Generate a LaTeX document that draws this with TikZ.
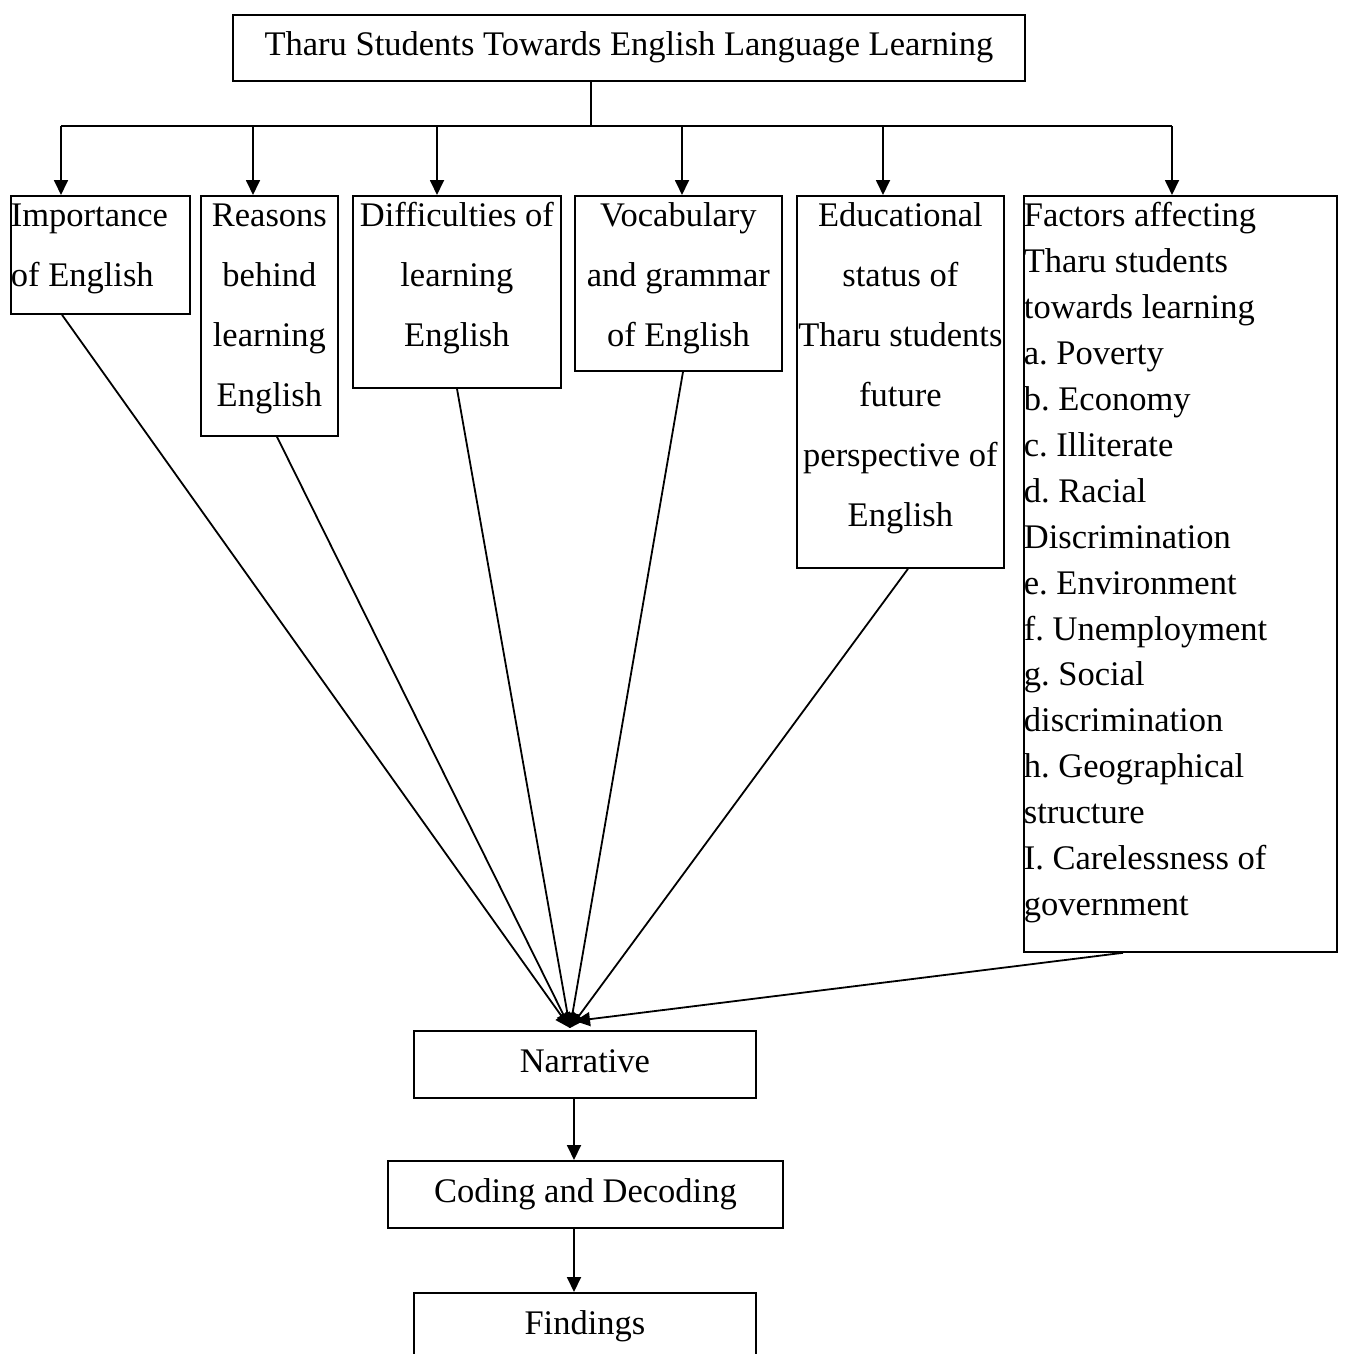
\documentclass[tikz,border=0pt]{standalone}
\usepackage{fontspec}
\setmainfont{Liberation Serif}
\usetikzlibrary{arrows.meta}
\frenchspacing
\newcommand{\cbx}[3]{\parbox[c][#2][t]{#1}{\frenchspacing\centering\rule{0pt}{31pt}#3}}
\newcommand{\lbx}[3]{\parbox[c][#2][t]{#1}{\frenchspacing\raggedright\rule{0pt}{31pt}#3}}
\tikzset{
  bigfont/.style={font=\fontsize{34.5pt}{60pt}\selectfont},
  listfont/.style={font=\fontsize{34.5pt}{45.9pt}\selectfont},
  tallbox/.style={draw, line width=1.8pt, inner sep=0pt, anchor=north west, bigfont},
  onebox/.style={draw, line width=1.8pt, inner sep=0pt, anchor=north west, bigfont,
    text height=23pt, text depth=7pt},
  conn/.style={line width=1.8pt},
  arr/.style={line width=1.8pt, -{Triangle[length=15pt,width=14pt]}},
}
\begin{document}
\begin{tikzpicture}[x=1pt,y=-1pt]
\clip (0,0) rectangle (1344,1354);
\fill[white] (0,0) rectangle (1344,1354);

% top box
\node[onebox, minimum width=792pt, minimum height=66pt] (top) at (232,14)
  {Tharu Students Towards English Language Learning};

% second row
\node[tallbox] (imp) at (10,195) {\lbx{179pt}{118pt}{Importance\\of English}};
\node[tallbox] (rea) at (200,195) {\cbx{137pt}{240pt}{Reasons\\behind\\learning\\English}};
\node[tallbox] (dif) at (352,195) {\cbx{208pt}{192pt}{Difficulties of\\learning\\English}};
\node[tallbox] (voc) at (574,195) {\cbx{207pt}{175pt}{Vocabulary\\and grammar\\of English}};
\node[tallbox] (edu) at (796,195) {\cbx{207pt}{372pt}{Educational\\status of\\Tharu students\\future\\perspective of\\English}};
\node[tallbox, listfont] (fac) at (1023,195) {\lbx{313pt}{756pt}{Factors affecting\\Tharu students\\towards learning\\a. Poverty\\b. Economy\\c. Illiterate\\d. Racial\\Discrimination\\e. Environment\\f. Unemployment\\g. Social\\discrimination\\h. Geographical\\structure\\I. Carelessness of\\government}};

% bottom chain
\node[onebox, minimum width=342pt, minimum height=67pt] (narr) at (413,1030) {Narrative};
\node[onebox, minimum width=395pt, minimum height=67pt] (code) at (387,1160) {Coding and Decoding};
\node[onebox, minimum width=342pt, minimum height=67pt] (find) at (413,1292) {Findings};

% bus from the top box
\coordinate (hub) at (591,126);
\coordinate (d1) at (61,126);
\coordinate (d2) at (253,126);
\coordinate (d3) at (437,126);
\coordinate (d4) at (682,126);
\coordinate (d5) at (883,126);
\coordinate (d6) at (1172,126);
\draw[conn] (top.south -| hub) -- (hub);
\draw[conn] (d1) -- (d6);
\draw[arr] (d1) -- (d1 |- imp.north);
\draw[arr] (d2) -- (d2 |- rea.north);
\draw[arr] (d3) -- (d3 |- dif.north);
\draw[arr] (d4) -- (d4 |- voc.north);
\draw[arr] (d5) -- (d5 |- edu.north);
\draw[arr] (d6) -- (d6 |- fac.north);

% converging lines to Narrative
\coordinate (conv) at (570,1028);
\coordinate (conv2) at (575,1021);
\draw[arr] ([xshift=52pt]imp.south west) -- (conv);
\draw[arr] ([xshift=77pt]rea.south west) -- (conv);
\draw[arr] ([xshift=105pt]dif.south west) -- (conv);
\draw[arr] ([xshift=109pt]voc.south west) -- (conv);
\draw[arr] ([xshift=112pt]edu.south west) -- (conv);
\draw[arr] ([xshift=100pt]fac.south west) -- (conv2);

% chain arrows
\coordinate (vx) at (574,0);
\draw[arr] (narr.south -| vx) -- (code.north -| vx);
\draw[arr] (code.south -| vx) -- (find.north -| vx);
\end{tikzpicture}
\end{document}
